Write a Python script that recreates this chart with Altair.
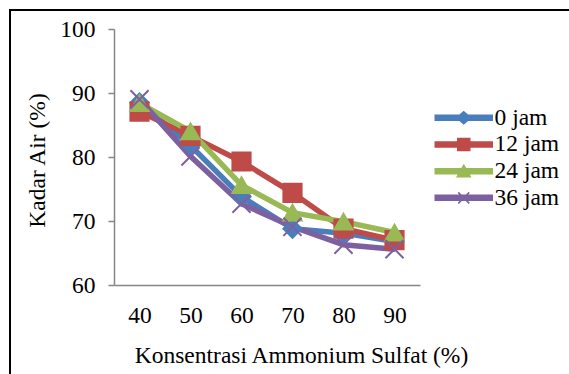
import altair as alt
import pandas as pd

concentrations = ["40", "50", "60", "70", "80", "90"]
series_names = ["0 jam", "12 jam", "24 jam", "36 jam"]
jam0 = [88.5, 81.8, 73.8, 68.8, 68.1, 66.8]
jam12 = [87.1, 83.3, 79.3, 74.4, 68.8, 67.0]
jam24 = [88.4, 84.0, 75.6, 71.3, 69.9, 68.2]
jam36 = [89.0, 80.1, 72.7, 69.1, 66.3, 65.6]
colors = ["#4A7EBB", "#BE4B48", "#98B954", "#7D60A0"]

values = [jam0, jam12, jam24, jam36]
rows = []
for s, vals in zip(series_names, values):
    for c, v in zip(concentrations, vals):
        rows.append({"conc": c, "series": s, "value": v, "order": series_names.index(s)})
df = pd.DataFrame(rows)

FONT = "Liberation Serif"
FS = 23.5

plot_shapes = ["diamond", "square", "triangle-up", "M-1,-1L1,1M-1,1L1,-1"]
line_seg = "M-2.85,-0.25H2.85V0.25H-2.85Z"
legend_shapes = [
    line_seg + "M0,-0.6L0.7,0L0,0.6L-0.7,0Z",
    line_seg + "M-0.6,-0.6H0.6V0.6H-0.6Z",
    line_seg + "M0,-0.6L0.65,0.55H-0.65Z",
    line_seg + "M-0.55,-0.55L0.55,0.55M-0.55,0.55L0.55,-0.55",
]

x_enc = alt.X(
    "conc:O",
    sort=concentrations,
    scale=alt.Scale(padding=0.5),
    axis=alt.Axis(
        title="Konsentrasi Ammonium Sulfat (%)",
        labelAngle=0,
        ticks=False,
        tickSize=0,
        labelPadding=37,
        labelBaseline="alphabetic",
        titleX=187,
        titleY=77,
        titleBaseline="alphabetic",
        titleAlign="center",
    ),
)
y_enc = alt.Y(
    "value:Q",
    scale=alt.Scale(domain=[60, 100], nice=False, zero=False),
    axis=alt.Axis(
        title="Kadar Air (%)",
        values=[60, 70, 80, 90, 100],
        tickSize=6,
        labelPadding=13,
        titleX=-77,
        titleY=131,
        titleAngle=-90,
        titleAlign="center",
        titleBaseline="middle",
    ),
)
col_scale = alt.Scale(domain=series_names, range=colors)

base = alt.Chart(df).encode(x=x_enc, y=y_enc)

lines = base.mark_line(strokeWidth=5.5).encode(
    color=alt.Color("series:N", scale=col_scale, legend=None),
    detail="series:N",
    order="conc:O",
)

points = base.mark_point(filled=True, opacity=1, strokeWidth=2, size=330).encode(
    color=alt.Color("series:N", scale=col_scale, legend=None),
    stroke=alt.Stroke("series:N", scale=col_scale, legend=None),
    shape=alt.Shape("series:N", scale=alt.Scale(domain=series_names, range=plot_shapes), legend=None),
    order="order:Q",
)

leg = alt.Legend(
    title=None,
    orient="none",
    legendX=338,
    legendY=77,
    labelOffset=19,
    rowPadding=1.7,
    padding=0,
    symbolSize=400,
    symbolStrokeWidth=1.5,
    labelFont=FONT,
    labelFontSize=FS,
    labelColor="black",
)

legend_layer = base.mark_point(filled=True, opacity=1, strokeWidth=1.5, size=400).encode(
    color=alt.Color("series:N", scale=col_scale, legend=leg),
    stroke=alt.Stroke("series:N", scale=col_scale, legend=leg),
    shape=alt.Shape("series:N", scale=alt.Scale(domain=series_names, range=legend_shapes), legend=leg),
).transform_filter("false")

frame = alt.Chart(alt.Data(values=[{"a": 1}])).mark_rect(
    fill=None, fillOpacity=0, stroke="black", strokeWidth=2
).encode(
    x=alt.value(-104), y=alt.value(-19), x2=alt.value(700), y2=alt.value(500)
)

chart = alt.layer(frame, lines, points, legend_layer).resolve_scale(
    color="independent", stroke="independent", shape="independent"
).properties(
    width=306,
    height=256,
    autosize=alt.AutoSizeParams(type="none"),
    padding={"left": 114, "top": 29, "right": 149, "bottom": 89},
    background="white",
).configure_view(stroke=None).configure_axis(
    labelFont=FONT,
    labelFontSize=FS,
    labelColor="black",
    titleFont=FONT,
    titleFontSize=FS,
    titleFontWeight="normal",
    titleColor="black",
    domainColor="#868686",
    domainWidth=1.5,
    tickColor="#868686",
    tickWidth=1.5,
    grid=False,
)

chart.save("out.html", embed_options={"renderer": "svg", "actions": False})
